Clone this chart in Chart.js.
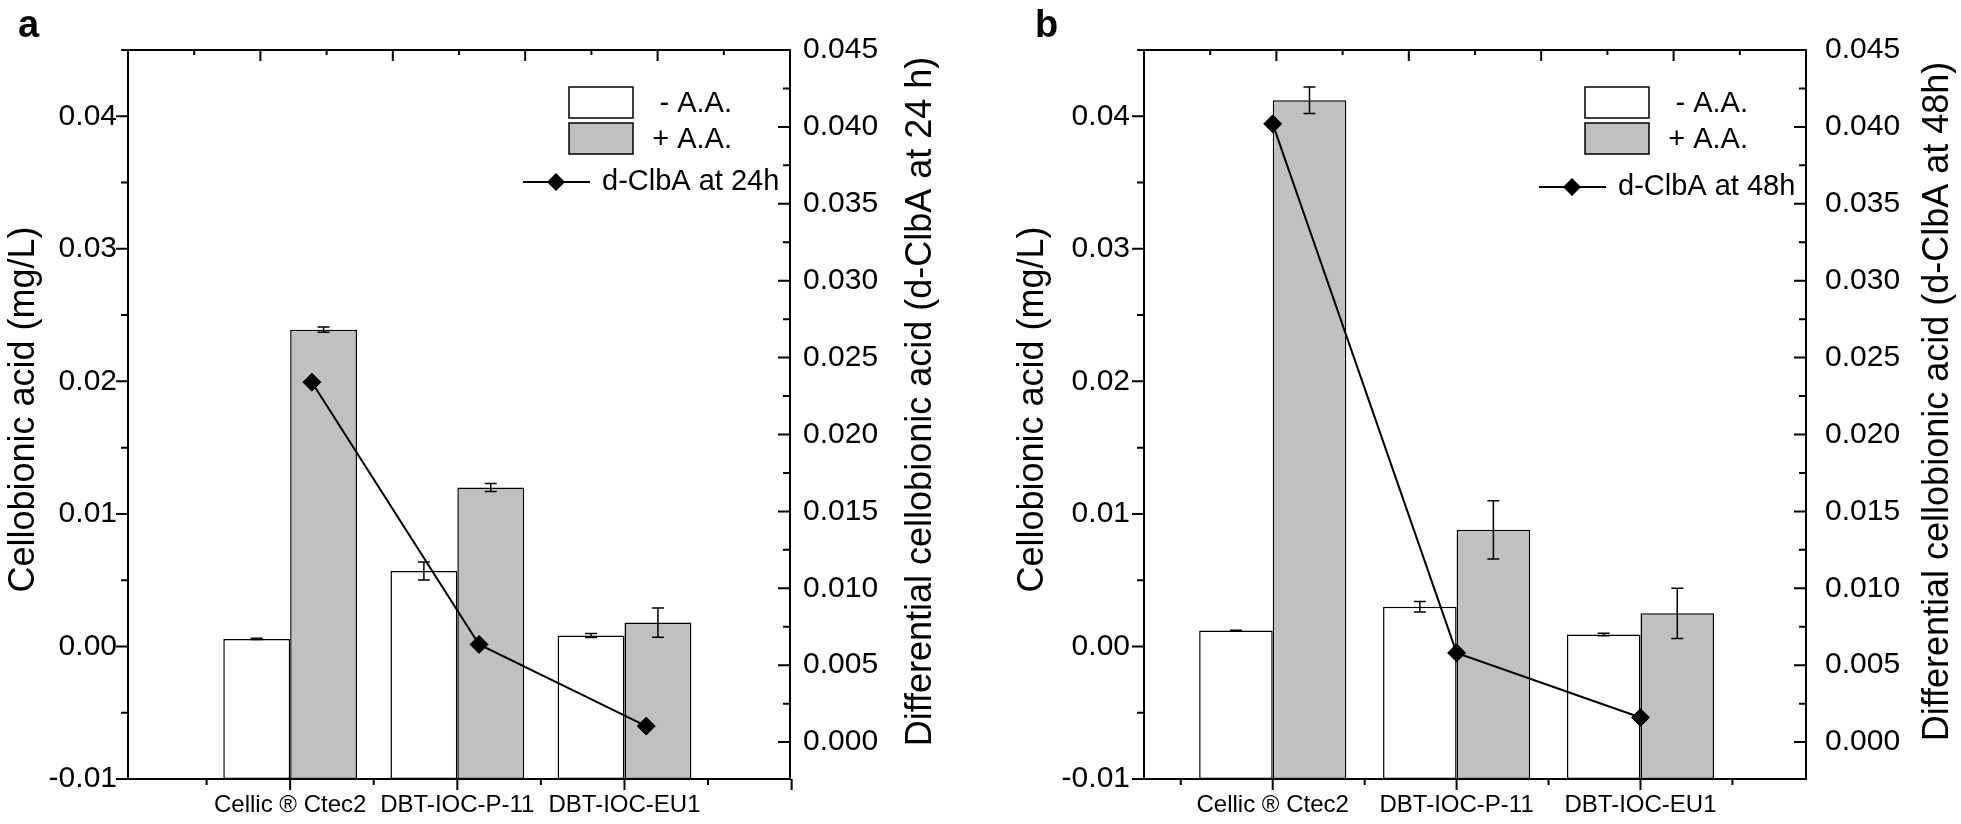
<!DOCTYPE html>
<html><head><meta charset="utf-8">
<script src="https://cdn.jsdelivr.net/npm/chart.js@4.4.0/dist/chart.umd.min.js"></script>
<style>
html,body{margin:0;padding:0;background:#fff;width:1961px;height:824px;overflow:hidden}
canvas{position:absolute;top:0}
#ca{left:0}
#cb{left:980px}
</style></head>
<body>
<canvas id="ca" width="980" height="824"></canvas>
<canvas id="cb" width="981" height="824"></canvas>
<script>
// ---------- data ----------
const categories = ['Cellic \u00AE Ctec2', 'DBT-IOC-P-11', 'DBT-IOC-EU1'];
// panel a (24 h)
const aMinusAA    = [0.00057, 0.0057, 0.00082];
const aMinusAAErr = [0.00004, 0.00068, 0.00015];
const aPlusAA     = [0.0239, 0.0120, 0.0018];
const aPlusAAErr  = [0.0002, 0.0003, 0.0011];
const aDClbA      = [0.0234, 0.00635, 0.00104];
// panel b (48 h)
const bMinusAA    = [0.0012, 0.0030, 0.0009];
const bMinusAAErr = [0.00003, 0.0004, 0.0001];
const bPlusAA     = [0.0412, 0.0088, 0.0025];
const bPlusAAErr  = [0.001, 0.0022, 0.0019];
const bDClbA      = [0.0402, 0.0058, 0.0016];
// tick labels
const leftTicks  = [-0.01, 0.00, 0.01, 0.02, 0.03, 0.04];
const rightTicks = [0.000, 0.005, 0.010, 0.015, 0.020, 0.025, 0.030, 0.035, 0.040, 0.045];
const leftRange  = [-0.01, 0.045];
const rightRange = [-0.0024, 0.045];

const FONT = "'Liberation Sans', Arial, Helvetica, sans-serif";
Chart.defaults.font.family = FONT;
Chart.defaults.color = '#000';

function makeDecor(P) {
  return {
    id: 'decor' + P.letter,
    afterDatasetsDraw(chart) {
      const ctx = chart.ctx;
      const ys = chart.scales.y;
      ctx.save();
      ctx.strokeStyle = '#000';
      ctx.lineWidth = 1.5;
      [1, 2].forEach(di => {
        const ds = chart.data.datasets[di];
        const meta = chart.getDatasetMeta(di);
        meta.data.forEach((el, j) => {
          const v = ds.data[j].y, e = ds.errors[j];
          const yt = ys.getPixelForValue(v + e), yb = ys.getPixelForValue(v - e);
          ctx.beginPath();
          ctx.moveTo(el.x, yt); ctx.lineTo(el.x, yb);
          ctx.moveTo(el.x - 6, yt); ctx.lineTo(el.x + 6, yt);
          ctx.moveTo(el.x - 6, yb); ctx.lineTo(el.x + 6, yb);
          ctx.stroke();
        });
      });
      ctx.restore();
    },
    afterDraw(chart) {
      const ctx = chart.ctx, ca = chart.chartArea;
      const xs = chart.scales.x, ys = chart.scales.y, y2 = chart.scales.y2;
      ctx.save();
      ctx.strokeStyle = '#000';
      ctx.fillStyle = '#000';
      ctx.lineWidth = 2;
      ctx.strokeRect(ca.left, ca.top, ca.right - ca.left, ca.bottom - ca.top);
      ctx.beginPath();
      // left ticks (outward)
      leftTicks.forEach((v, i) => {
        const p = ys.getPixelForValue(v);
        ctx.moveTo(ca.left, p); ctx.lineTo(ca.left - 12, p);
        const m = v + (leftTicks[1] - leftTicks[0]) / 2;
        if (m <= leftRange[1] + 1e-9) {
          const q = ys.getPixelForValue(m);
          ctx.moveTo(ca.left, q); ctx.lineTo(ca.left - 7, q);
        }
      });
      // right ticks (inward)
      rightTicks.forEach(v => {
        const p = y2.getPixelForValue(v);
        ctx.moveTo(ca.right, p); ctx.lineTo(ca.right - 12, p);
        const m = v + (rightTicks[1] - rightTicks[0]) / 2;
        if (m <= rightRange[1] + 1e-9) {
          const q = y2.getPixelForValue(m);
          ctx.moveTo(ca.right, q); ctx.lineTo(ca.right - 7, q);
        }
      });
      // bottom ticks
      for (let k = -1; k <= categories.length; k++) {
        if (k >= xs.min - 0.01 && k <= xs.max + 0.02) {
          const p = xs.getPixelForValue(k);
          ctx.moveTo(p, ca.bottom); ctx.lineTo(p, ca.bottom + 11);
        }
        const h = k + 0.5;
        if (h > xs.min && h < xs.max) {
          const q = xs.getPixelForValue(h);
          ctx.moveTo(q, ca.bottom); ctx.lineTo(q, ca.bottom + 6);
        }
      }
      // top ticks (inward, 10 intervals)
      for (let k = 1; k < 10; k++) {
        const p = ca.left + (ca.right - ca.left) * k / 10;
        ctx.moveTo(p, ca.top); ctx.lineTo(p, ca.top + (k % 2 === 0 ? 11 : 5));
      }
      ctx.stroke();

      // legend
      const R = ca.right, T = ca.top;
      ctx.lineWidth = 1.5;
      ctx.fillStyle = '#fff';
      ctx.fillRect(R - 221, T + 37, 64, 31);
      ctx.strokeRect(R - 221, T + 37, 64, 31);
      ctx.fillStyle = '#c0c0c0';
      ctx.fillRect(R - 221, T + 73, 64, 31);
      ctx.strokeRect(R - 221, T + 73, 64, 31);
      ctx.fillStyle = '#000';
      ctx.font = '29px ' + FONT;
      ctx.textAlign = 'right';
      ctx.textBaseline = 'middle';
      ctx.fillText(chart.data.datasets[1].label, R - 58, T + 54);
      ctx.fillText(chart.data.datasets[2].label, R - 58, T + 90);
      const ly = T + P.legLineDy;
      ctx.lineWidth = 2;
      ctx.beginPath();
      ctx.moveTo(R - 267, ly); ctx.lineTo(R - 200, ly);
      ctx.stroke();
      ctx.beginPath();
      ctx.moveTo(R - 234, ly - 9); ctx.lineTo(R - 225, ly); ctx.lineTo(R - 234, ly + 9); ctx.lineTo(R - 243, ly);
      ctx.closePath(); ctx.fill();
      ctx.textAlign = 'left';
      ctx.fillText(chart.data.datasets[0].label, R - 188, ly);

      // axis titles
      const cy = (ca.top + ca.bottom) / 2 - 5;
      ctx.font = '36px ' + FONT;
      ctx.textAlign = 'center';
      ctx.textBaseline = 'middle';
      ctx.save();
      ctx.translate(ca.left - P.leftTitleDx, cy);
      ctx.rotate(-Math.PI / 2);
      ctx.fillText(P.leftTitle, 0, 0);
      ctx.restore();
      ctx.save();
      ctx.translate(ca.right + P.rightTitleDx, cy - 8);
      ctx.rotate(-Math.PI / 2);
      ctx.fillText(P.rightTitle, 0, 0);
      ctx.restore();

      // panel letter
      ctx.font = 'bold 38px ' + FONT;
      ctx.textAlign = 'left';
      ctx.textBaseline = 'alphabetic';
      ctx.fillText(P.letter, P.letterX, 37);
      ctx.restore();
    }
  };
}

function build(id, P) {
  const pts = arr => arr.map((v, i) => ({ x: i, y: v }));
  return new Chart(document.getElementById(id), {
    type: 'bar',
    data: {
      datasets: [
        { type: 'line', label: P.lineLabel, data: P.d.map((v, i) => ({ x: i + P.shift, y: v })),
          xAxisID: 'x', yAxisID: 'y2', order: 0, borderColor: '#000', borderWidth: 2,
          pointStyle: 'rectRot', pointRadius: 9, pointBackgroundColor: '#000', pointBorderColor: '#000',
          pointBorderWidth: 1, tension: 0, fill: false },
        { label: '- A.A.', data: pts(P.minus), errors: P.minusErr, xAxisID: 'x', yAxisID: 'y', order: 1,
          base: leftRange[0], backgroundColor: '#ffffff', borderColor: '#000', borderWidth: 1.5,
          borderSkipped: false, categoryPercentage: 0.8, barPercentage: 1 },
        { label: '+ A.A.', data: pts(P.plus), errors: P.plusErr, xAxisID: 'x', yAxisID: 'y', order: 1,
          base: leftRange[0], backgroundColor: '#c0c0c0', borderColor: '#000', borderWidth: 1.5,
          borderSkipped: false, categoryPercentage: 0.8, barPercentage: 1 }
      ]
    },
    options: {
      responsive: false, animation: false, devicePixelRatio: 1,
      layout: { padding: { top: 50, left: 0, right: 0, bottom: 0 } },
      plugins: { legend: { display: false }, tooltip: { enabled: false } },
      scales: {
        x: { type: 'linear', position: 'bottom', min: P.xMin, max: P.xMax, offset: false,
             grid: { display: false, drawTicks: false }, border: { display: false },
             afterBuildTicks: s => { s.ticks = categories.map((c, i) => ({ value: i })); },
             afterFit: s => { s.height = 45; },
             ticks: { autoSkip: false, maxRotation: 0, minRotation: 0, padding: 12, color: '#000',
                      font: { size: 24 }, callback: v => categories[Math.round(v)] || '' } },
        y: { type: 'linear', position: 'left', min: leftRange[0], max: leftRange[1],
             grid: { display: false, drawTicks: false }, border: { display: false },
             afterBuildTicks: s => { s.ticks = leftTicks.map(v => ({ value: v })); },
             afterFit: s => { s.width = P.yW; },
             ticks: { padding: P.yPad, color: '#000', font: { size: 30 }, callback: v => Number(v).toFixed(2) } },
        y2: { type: 'linear', position: 'right', min: rightRange[0], max: rightRange[1],
             grid: { display: false, drawTicks: false }, border: { display: false },
             afterBuildTicks: s => { s.ticks = rightTicks.map(v => ({ value: v })); },
             afterFit: s => { s.width = P.y2W; },
             ticks: { padding: P.y2Pad, color: '#000', font: { size: 30 }, callback: v => Number(v).toFixed(3) } }
      }
    },
    plugins: [makeDecor(P)]
  });
}

build('ca', {
  letter: 'a', letterX: 18, minus: aMinusAA, minusErr: aMinusAAErr, plus: aPlusAA, plusErr: aPlusAAErr,
  d: aDClbA, shift: 0.13, lineLabel: 'd-ClbA at 24h', xMin: -0.97, xMax: 2.99,
  yW: 128, y2W: 190, yPad: 11, y2Pad: 13, leftTitleDx: 104, rightTitleDx: 131, legLineDy: 132,
  leftTitle: 'Cellobionic acid (mg/L)', rightTitle: 'Differential cellobionic acid (d-ClbA at 24 h)'
});
build('cb', {
  letter: 'b', letterX: 55, minus: bMinusAA, minusErr: bMinusAAErr, plus: bPlusAA, plusErr: bPlusAAErr,
  d: bDClbA, shift: 0, lineLabel: 'd-ClbA at 48h', xMin: -0.70, xMax: 2.90,
  yW: 164, y2W: 155, yPad: 14, y2Pad: 19, leftTitleDx: 111, rightTitleDx: 132, legLineDy: 137,
  leftTitle: 'Cellobionic acid (mg/L)', rightTitle: 'Differential cellobionic acid (d-ClbA at 48h)'
});
</script>
</body></html>
